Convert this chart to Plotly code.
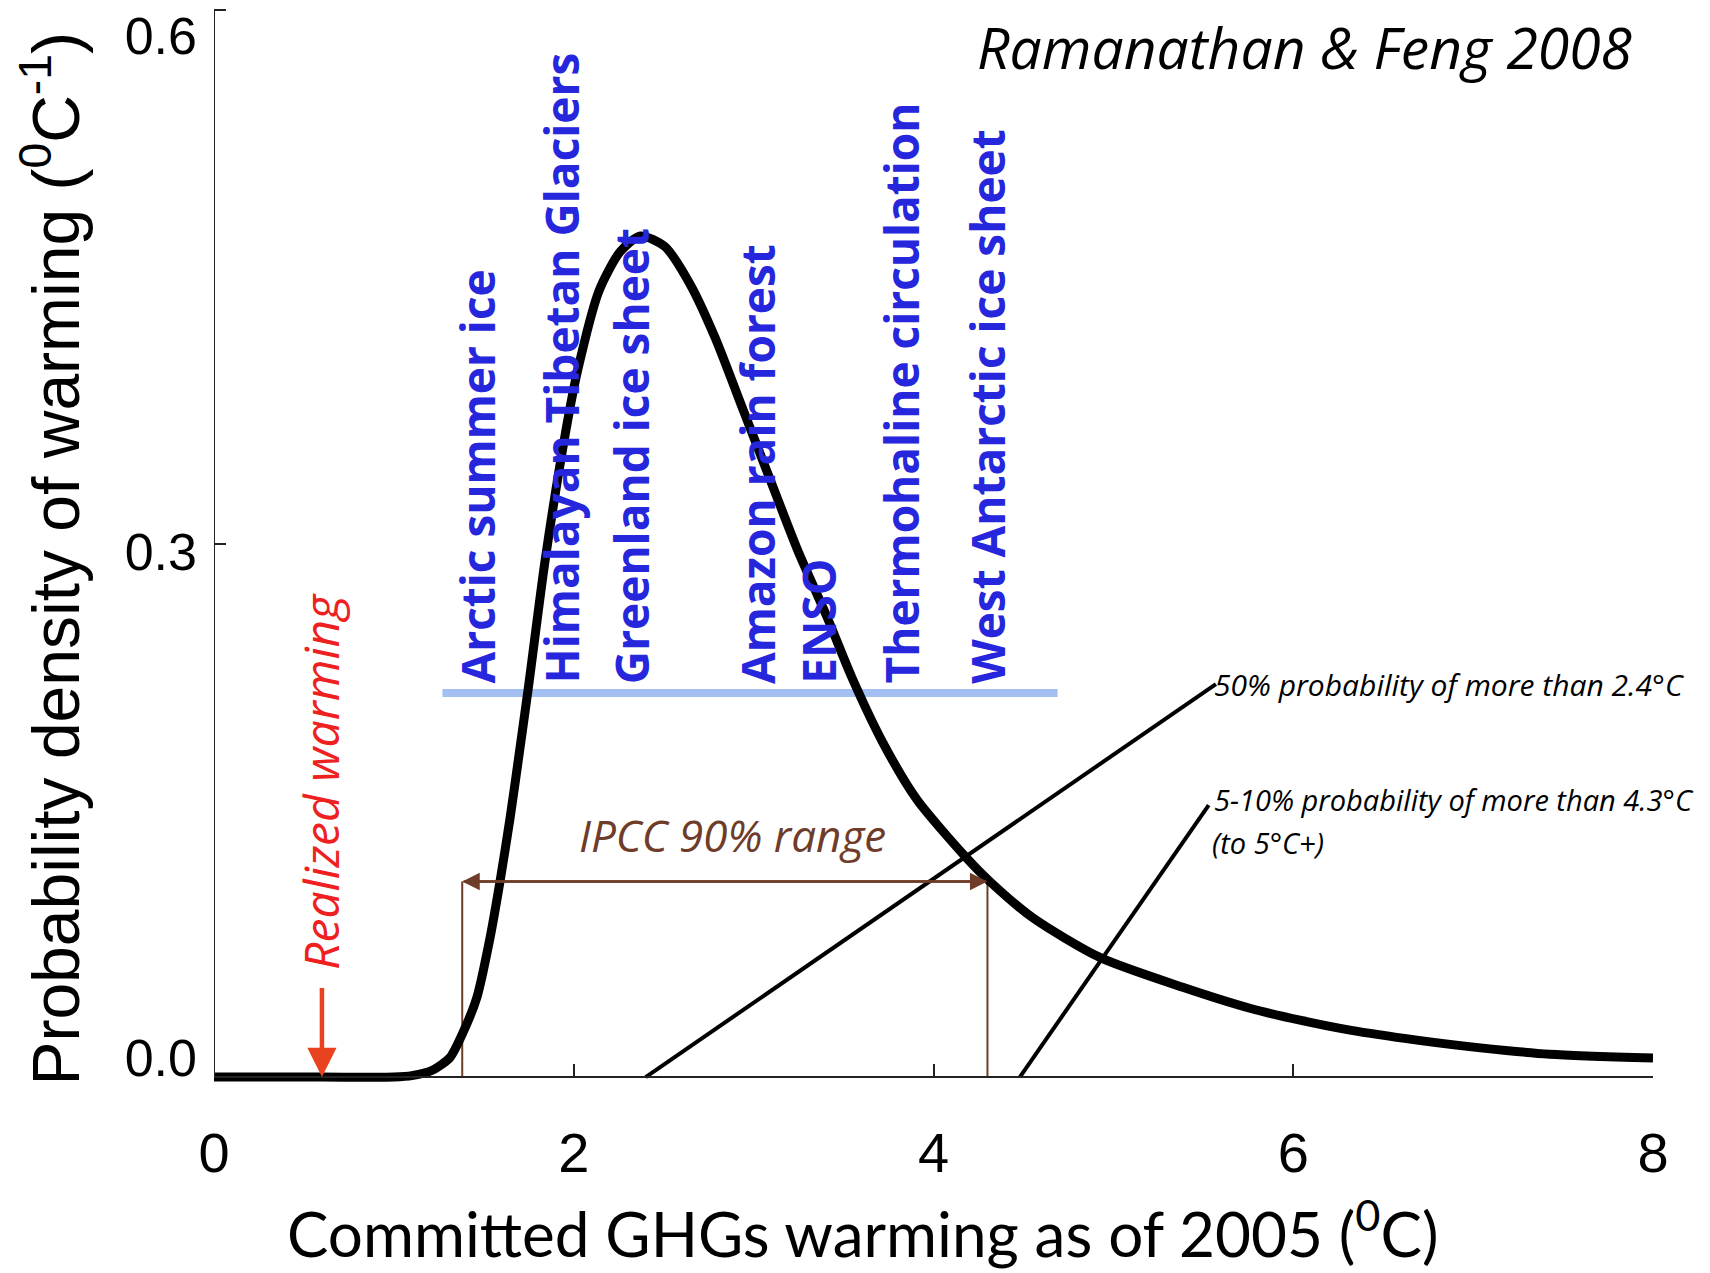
import plotly.graph_objects as go

# ---------------- data ----------------
curve_x = [0.0, 0.6, 1.0, 1.1, 1.217, 1.312, 1.384, 1.462, 1.534, 1.590, 1.645, 1.690,
           1.749, 1.840, 1.957, 2.023, 2.140, 2.257, 2.370, 2.507, 2.646, 2.785, 2.946,
           3.107, 3.246, 3.407, 3.545, 3.719, 3.908, 4.186, 4.313, 4.553, 4.925, 5.386,
           5.759, 6.037, 6.315, 6.687, 7.054, 7.426, 8.0]
curve_y = [0.0, 0.0, 0.0, 0.0008, 0.004, 0.011, 0.025, 0.045, 0.078, 0.110, 0.145, 0.177,
           0.220, 0.290, 0.364, 0.398, 0.442, 0.464, 0.473, 0.467, 0.446, 0.416, 0.374,
           0.332, 0.296, 0.259, 0.225, 0.188, 0.156, 0.123, 0.110, 0.0895, 0.0673, 0.0505,
           0.0387, 0.032, 0.0264, 0.0208, 0.0163, 0.0129, 0.0107]

impact_labels = ["Arctic summer ice", "Himalayan Tibetan Glaciers", "Greenland ice sheet",
                 "Amazon rain forest", "ENSO", "Thermohaline circulation",
                 "West Antarctic ice sheet"]
impact_x = [1.46, 1.93, 2.32, 3.02, 3.36, 3.82, 4.30]
impact_band_x = [1.27, 4.69]
impact_band_y = [0.216, 0.216]

realized_warming = 0.6
ipcc_range = [1.38, 4.30]
ipcc_level = 0.110

p50_line_x = [2.40, 5.57]
p50_line_y = [0.0, 0.221]
p5_line_x = [4.48, 5.53]
p5_line_y = [0.0, 0.153]

x_ticks = [0, 2, 4, 6, 8]
y_ticks = [0.0, 0.3, 0.6]
y_tick_labels = ["0.0", "0.3", "0.6"]

# ---------------- style ----------------
BLUE_TXT = "#2626dc"
BLUE_LINE = "#a4c0f2"
BROWN = "#6e3c28"
RED_TXT = "#ee2020"
RED_ARROW = "#e8421e"
HELV = "Liberation Sans, Arial, sans-serif"
MYR = "Open Sans, sans-serif"
Y_RANGE = [-0.005, 0.60117]
AX = "#222222"

fig = go.Figure()

# impact band
fig.add_trace(go.Scatter(x=impact_band_x, y=impact_band_y, mode="lines",
                         line=dict(color=BLUE_LINE, width=8), hoverinfo="skip"))
# IPCC vertical brackets
fig.add_trace(go.Scatter(x=[ipcc_range[0], ipcc_range[0], None, ipcc_range[1], ipcc_range[1]],
                         y=[0, ipcc_level, None, 0, ipcc_level], mode="lines",
                         line=dict(color=BROWN, width=2), hoverinfo="skip"))
# pointer lines
fig.add_trace(go.Scatter(x=p50_line_x, y=p50_line_y, mode="lines",
                         line=dict(color="black", width=4), hoverinfo="skip"))
fig.add_trace(go.Scatter(x=p5_line_x, y=p5_line_y, mode="lines",
                         line=dict(color="black", width=4), hoverinfo="skip"))
# PDF curve
fig.add_trace(go.Scatter(x=curve_x, y=curve_y, mode="lines",
                         line=dict(color="black", width=9, shape="spline", smoothing=0.7),
                         hoverinfo="skip"))
# empty traces registering the helper label axes
fig.add_trace(go.Scatter(x=[], y=[], yaxis="y2", hoverinfo="skip"))
fig.add_trace(go.Scatter(x=[], y=[], yaxis="y3", hoverinfo="skip"))

annotations = []
# impact labels
for lab, xv in zip(impact_labels, impact_x):
    annotations.append(dict(x=xv, y=0.220, xref="x", yref="y", text=lab, showarrow=False,
                            textangle=-90, xanchor="center", yanchor="bottom",
                            font=dict(family=MYR, size=46, color=BLUE_TXT, weight="bold")))

# IPCC double arrow (two overlapping arrows, each spanning the whole range)
for end, start in [(ipcc_range[0], ipcc_range[1]), (ipcc_range[1], ipcc_range[0])]:
    annotations.append(dict(x=end, y=ipcc_level, ax=start, ay=ipcc_level, xref="x", yref="y",
                            axref="x", ayref="y", text="", showarrow=True, arrowhead=2,
                            arrowsize=1.4, arrowwidth=2.5, arrowcolor=BROWN))
annotations.append(dict(x=2.88, y=0.136, xref="x", yref="y", text="<i>IPCC 90% range</i>",
                        showarrow=False, xanchor="center", yanchor="middle",
                        font=dict(family=MYR, size=44, color=BROWN)))

# realized warming arrow
annotations.append(dict(x=realized_warming, y=0.0, ax=realized_warming, ay=0.051,
                        xref="x", yref="y", axref="x", ayref="y", text="", showarrow=True,
                        arrowhead=2, arrowsize=1.3, arrowwidth=4.5, arrowcolor=RED_ARROW))
annotations.append(dict(x=0.595, y=0.166, xref="x", yref="y", text="<i>Realized warming</i>",
                        showarrow=False, textangle=-90, xanchor="center", yanchor="middle",
                        font=dict(family=MYR, size=48, color=RED_TXT)))

# probability notes
annotations.append(dict(x=5.55, y=0.221, xref="x", yref="y",
                        text="<i>50% probability of more than 2.4°C</i>", showarrow=False,
                        xanchor="left", yanchor="middle",
                        font=dict(family=MYR, size=30, color="black")))
annotations.append(dict(x=5.55, y=0.156, xref="x", yref="y",
                        text="<i>5-10% probability of more than 4.3°C</i>", showarrow=False,
                        xanchor="left", yanchor="middle",
                        font=dict(family=MYR, size=29, color="black")))
annotations.append(dict(x=5.535, y=0.132, xref="x", yref="y",
                        text="<i>(to 5°C+)</i>", showarrow=False,
                        xanchor="left", yanchor="middle",
                        font=dict(family=MYR, size=29, color="black")))

# citation
annotations.append(dict(x=6.06, y=0.579, xref="x", yref="y",
                        text="<i>Ramanathan & Feng 2008</i>", showarrow=False,
                        xanchor="center", yanchor="middle",
                        font=dict(family=MYR, size=57, color="black")))

# axis titles
annotations.append(dict(x=3.607, y=0, xref="x", yref="paper", yshift=-143,
                        text="Committed GHGs warming as of 2005 (<sup>0</sup>C)",
                        showarrow=False, xanchor="center", yanchor="middle",
                        font=dict(family="Lato, Open Sans, sans-serif", size=62, color="black")))
annotations.append(dict(x=0, y=0.291, xref="paper", yref="y", xshift=-163,
                        text="Probability density of warming (<sup>0</sup>C<sup>-1</sup>)",
                        showarrow=False, textangle=-90, xanchor="center", yanchor="middle",
                        font=dict(family=HELV, size=66, color="black")))

ylab_common = dict(range=Y_RANGE, showline=False, showgrid=False, zeroline=False,
                   automargin=False, ticklabelstandoff=16, ticklabeloverflow="allow",
                   tickfont=dict(family=HELV, size=52, color="black"))

fig.update_layout(
    width=1710, height=1273,
    margin=dict(l=206, r=65, t=0, b=195, autoexpand=False),
    paper_bgcolor="white", plot_bgcolor="white",
    showlegend=False,
    annotations=annotations,
    shapes=[dict(type="line", xref="x", yref="y", x0=0, x1=0, y0=0, y1=0.6,
                 line=dict(color=AX, width=2))],
    xaxis=dict(range=[0, 8], tickvals=x_ticks, ticks="inside", ticklen=12, tickwidth=2,
               tickcolor=AX, showline=True, linecolor=AX, linewidth=2,
               showgrid=False, zeroline=False, anchor="free",
               position=-Y_RANGE[0] / (Y_RANGE[1] - Y_RANGE[0]), automargin=False,
               tickfont=dict(family=HELV, size=56, color="black"), ticklabelstandoff=27),
    # main y axis: tick marks + "0.3" label
    yaxis=dict(tickvals=y_ticks, ticktext=["", y_tick_labels[1], ""],
               ticks="inside", ticklen=12, tickwidth=2, tickcolor=AX,
               ticklabelshift=8, **ylab_common),
    # helper axes carrying the "0.6" and "0.0" labels at their printed offsets
    yaxis2=dict(overlaying="y", anchor="x", side="left", tickvals=[y_ticks[2]],
                ticktext=[y_tick_labels[2]], ticks="", ticklabelshift=26, **ylab_common),
    yaxis3=dict(overlaying="y", anchor="x", side="left", tickvals=[y_ticks[0]],
                ticktext=[y_tick_labels[0]], ticks="", ticklabelshift=-19, **ylab_common),
)

fig.write_html("out.html")
